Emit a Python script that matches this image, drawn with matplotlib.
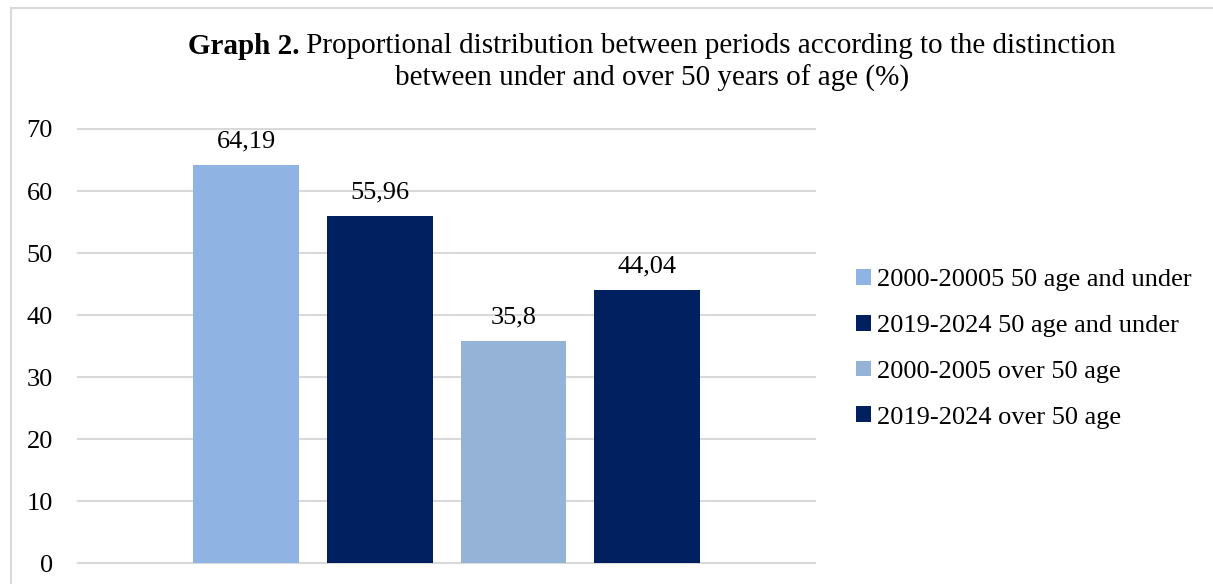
import matplotlib
matplotlib.use("Agg")
import matplotlib.pyplot as plt
from matplotlib.lines import Line2D

# data
series = ["2000-20005 50 age and under", "2019-2024 50 age and under",
          "2000-2005 over 50 age", "2019-2024 over 50 age"]
values = [64.19, 55.96, 35.8, 44.04]
colors = ["#8FB4E3", "#002060", "#95B3D7", "#002060"]
yticks = [0, 10, 20, 30, 40, 50, 60, 70]

plt.rcParams["font.family"] = ["Liberation Serif", "DejaVu Serif"]

W, H = 1213, 584
fig = plt.figure(figsize=(W / 100, H / 100), dpi=100)

# plot area in pixels: x 78..815, y 129..563
ax = fig.add_axes([78 / W, (H - 563.3) / H, (815 - 78) / W, (563.3 - 129) / H])

x = list(range(len(values)))
for i, (v, c, lab) in enumerate(zip(values, colors, series)):
    b = ax.bar(x[i], v, width=0.79, color=c, label=lab, zorder=3)
    ax.bar_label(b, labels=[str(v).replace(".", ",")], padding=9,
                 fontsize=19, color="#000000")

ax.set_xlim(-1.257, 4.256)
ax.set_ylim(0, 70)
ax.set_yticks(yticks)
ax.set_yticklabels([str(t) for t in yticks], fontsize=19)
ax.tick_params(axis="y", length=0, pad=18)
ax.set_xticks([])
for s in ax.spines.values():
    s.set_visible(False)
ax.yaxis.grid(True, color="#D9D9D9", linewidth=1.5, zorder=0)
for gl in ax.get_ygridlines():
    gl.set_clip_on(False)
ax.set_axisbelow(True)

ax.legend(loc="upper left", bbox_to_anchor=(856 / W, 1 - 269 / H),
          bbox_transform=fig.transFigure, frameon=False, fontsize=19,
          handlelength=0.55, handleheight=0.55, handletextpad=0.25,
          labelspacing=0.89, borderpad=0, borderaxespad=0)

# title, bold lead-in then plain text
t_bold = fig.text(0, 1 - 46 / H, "Graph 2.", fontweight="bold",
                  ha="left", va="center", fontsize=21)
t_rest = fig.text(0, 1 - 46 / H,
                  " Proportional distribution between periods according to the distinction",
                  ha="left", va="center", fontsize=21)
fig.canvas.draw()
r = fig.canvas.get_renderer()
wb = t_bold.get_window_extent(r).width
wr = t_rest.get_window_extent(r).width
x0 = 652 - (wb + wr) / 2
t_bold.set_x(x0 / W)
t_rest.set_x((x0 + wb) / W)
fig.text(652 / W, 1 - 78 / H, "between under and over 50 years of age (%)",
         ha="center", va="center", fontsize=21)

# chart border (left and top edges visible)
fig.add_artist(Line2D([11 / W, 11 / W], [0, 1 - 7.5 / H], transform=fig.transFigure,
                      color="#D9D9D9", linewidth=1.5))
fig.add_artist(Line2D([11 / W, 1], [1 - 7.5 / H, 1 - 7.5 / H], transform=fig.transFigure,
                      color="#D9D9D9", linewidth=1.5))

fig.savefig("out.png", dpi=100, facecolor="white")
